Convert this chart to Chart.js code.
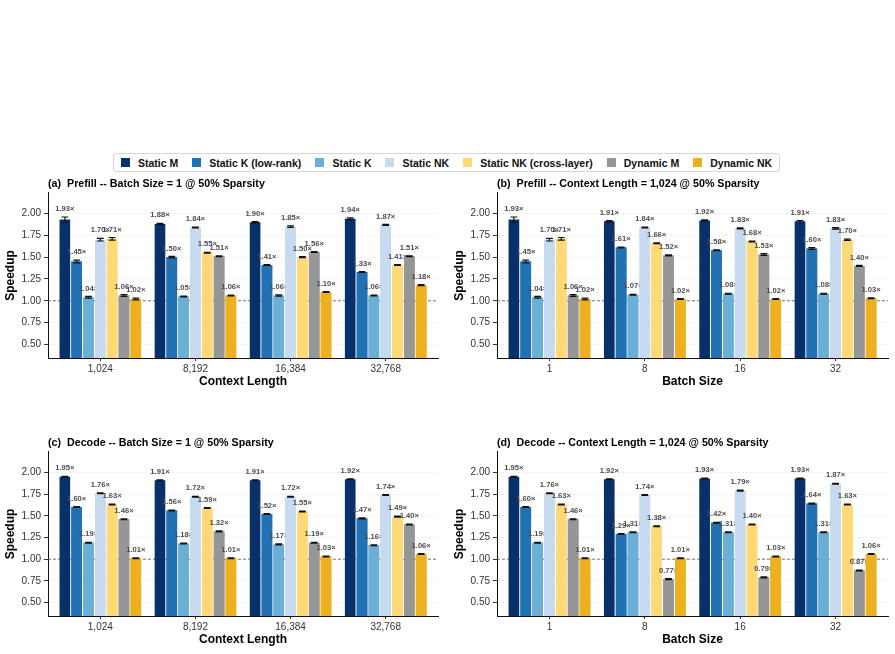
<!DOCTYPE html>
<html>
<head>
<meta charset="utf-8">
<script src="https://cdn.jsdelivr.net/npm/chart.js@4.4.1/dist/chart.umd.min.js"></script>
<style>
  body { margin: 0; width: 895px; height: 654px; background: #fff; position: relative; overflow: hidden;
         font-family: "Liberation Sans", Arial, sans-serif; }
  canvas { position: absolute; }
  #legend { position: absolute; left: 113px; top: 153px; width: 667px; height: 19px; box-sizing: border-box;
            border: 1px solid #d6d6d6; border-radius: 3px; display: flex; align-items: center; justify-content: center;
            font-size: 10.5px; font-weight: bold; color: #111; }
  .item { display: flex; align-items: center; margin: 0 7px; white-space: pre; }
  .sw { width: 9px; height: 9px; margin-right: 8px; }
</style>
</head>
<body>
<div id="legend"></div>
<canvas id="chartA" width="445" height="220" style="left:0;top:172px"></canvas>
<canvas id="chartB" width="450" height="220" style="left:445px;top:172px"></canvas>
<canvas id="chartC" width="445" height="219" style="left:0;top:431px"></canvas>
<canvas id="chartD" width="450" height="219" style="left:445px;top:431px"></canvas>
<script>
const FONT = '"Liberation Sans", Arial, sans-serif';

const seriesNames = ['Static M', 'Static K (low-rank)', 'Static K', 'Static NK',
                     'Static NK (cross-layer)', 'Dynamic M', 'Dynamic NK'];
const seriesColors = ['#08306b', '#2171b5', '#6baed6', '#c6dbef', '#fed976', '#969696', '#edb120'];

const contextLabels = ['1,024', '8,192', '16,384', '32,768'];
const batchLabels = ['1', '8', '16', '32'];
const yTicks = [0.5, 0.75, 1.0, 1.25, 1.5, 1.75, 2.0];
const yMin = 0.345, yMax = 2.235;

// rows = series (same order as seriesNames), cols = groups
const prefillCtxVals = [
  [1.93, 1.88, 1.90, 1.94],
  [1.45, 1.50, 1.41, 1.33],
  [1.04, 1.05, 1.06, 1.06],
  [1.70, 1.84, 1.85, 1.87],
  [1.71, 1.55, 1.50, 1.41],
  [1.06, 1.51, 1.56, 1.51],
  [1.02, 1.06, 1.10, 1.18]
];
const prefillCtxErr = [
  [0.030, 0.008, 0.008, 0.010],
  [0.015, 0.008, 0.005, 0.005],
  [0.010, 0.005, 0.008, 0.005],
  [0.015, 0.005, 0.010, 0.005],
  [0.015, 0.005, 0.005, 0.005],
  [0.010, 0.005, 0.005, 0.005],
  [0.010, 0.005, 0.005, 0.005]
];

const prefillBatchVals = [
  [1.93, 1.91, 1.92, 1.91],
  [1.45, 1.61, 1.58, 1.60],
  [1.04, 1.07, 1.08, 1.08],
  [1.70, 1.84, 1.83, 1.83],
  [1.71, 1.66, 1.68, 1.70],
  [1.06, 1.52, 1.53, 1.40],
  [1.02, 1.02, 1.02, 1.03]
];
const prefillBatchErr = [
  [0.030, 0.008, 0.008, 0.010],
  [0.015, 0.005, 0.005, 0.010],
  [0.010, 0.005, 0.005, 0.005],
  [0.015, 0.005, 0.005, 0.008],
  [0.015, 0.005, 0.005, 0.008],
  [0.010, 0.005, 0.010, 0.005],
  [0.010, 0.005, 0.005, 0.005]
];

const decodeCtxVals = [
  [1.95, 1.91, 1.91, 1.92],
  [1.60, 1.56, 1.52, 1.47],
  [1.19, 1.18, 1.17, 1.16],
  [1.76, 1.72, 1.72, 1.74],
  [1.63, 1.59, 1.55, 1.49],
  [1.46, 1.32, 1.19, 1.40],
  [1.01, 1.01, 1.03, 1.06]
];
const decodeBatchVals = [
  [1.95, 1.92, 1.93, 1.93],
  [1.60, 1.29, 1.42, 1.64],
  [1.19, 1.31, 1.31, 1.31],
  [1.76, 1.74, 1.79, 1.87],
  [1.63, 1.38, 1.40, 1.63],
  [1.46, 0.77, 0.79, 0.87],
  [1.01, 1.01, 1.03, 1.06]
];
const decodeErr = [
  [0.005, 0.005, 0.005, 0.005],
  [0.005, 0.005, 0.005, 0.005],
  [0.005, 0.005, 0.005, 0.005],
  [0.005, 0.005, 0.005, 0.005],
  [0.005, 0.005, 0.005, 0.005],
  [0.005, 0.005, 0.005, 0.005],
  [0.005, 0.005, 0.005, 0.005]
];

// legend (shared by all four panels)
const legendEl = document.getElementById('legend');
seriesNames.forEach((name, i) => {
  const it = document.createElement('div');
  it.className = 'item';
  it.innerHTML = `<span class="sw" style="background:${seriesColors[i]}"></span><span>${name}</span>`;
  legendEl.appendChild(it);
});

// dashed 1.0 line under the bars; then each series in turn gets bars, error bars and labels,
// so a label can be hidden by the bars of the series that come after it (as in the original)
const barExtras = {
  id: 'barExtras',
  beforeDatasetsDraw(chart) {
    const { ctx, chartArea: a, scales: { y } } = chart;
    const y1 = y.getPixelForValue(1);
    ctx.save();
    ctx.strokeStyle = '#555';
    ctx.lineWidth = 0.8;
    ctx.setLineDash([3, 2]);
    ctx.beginPath();
    ctx.moveTo(a.left, y1);
    ctx.lineTo(a.right, y1);
    ctx.stroke();
    ctx.restore();
  },
  afterDatasetsDraw(chart) {
    const { ctx, chartArea: a, scales: { y } } = chart;
    chart.data.datasets.forEach((ds, i) => {
      const bars = chart.getDatasetMeta(i).data;
      if (i > 0) {
        ctx.save();
        ctx.beginPath();
        ctx.rect(a.left, a.top, a.right - a.left, a.bottom - a.top);
        ctx.clip();
        bars.forEach(bar => bar.draw(ctx));
        ctx.restore();
      }
      ctx.save();
      ctx.strokeStyle = '#111';
      ctx.lineWidth = 1.2;
      bars.forEach((bar, j) => {
        const hi = y.getPixelForValue(ds.data[j] + ds.errors[j]);
        const lo = y.getPixelForValue(ds.data[j] - ds.errors[j]);
        const hw = bar.width * 0.32;
        ctx.beginPath();
        ctx.moveTo(bar.x, hi); ctx.lineTo(bar.x, lo);
        ctx.moveTo(bar.x - hw, hi); ctx.lineTo(bar.x + hw, hi);
        ctx.moveTo(bar.x - hw, lo); ctx.lineTo(bar.x + hw, lo);
        ctx.stroke();
      });
      ctx.font = 'bold 7.6px ' + FONT;
      ctx.fillStyle = '#4d4d4d';
      ctx.textAlign = 'center';
      ctx.textBaseline = 'middle';
      bars.forEach((bar, j) => {
        const top = y.getPixelForValue(ds.data[j] + ds.errors[j]);
        ctx.fillText(ds.data[j].toFixed(2) + '×', bar.x, top - 8);
      });
      ctx.restore();
    });
  }
};

function makePanel(id, title, labels, xTitle, vals, errs, padLeft) {
  const xExpand = 0.55;
  new Chart(document.getElementById(id), {
    type: 'bar',
    data: {
      labels: labels,
      datasets: seriesNames.map((name, i) => ({
        label: name,
        data: vals[i],
        errors: errs[i],
        backgroundColor: seriesColors[i],
        borderWidth: 0,
        barPercentage: 0.9,
        categoryPercentage: 0.87
      }))
    },
    options: {
      responsive: false,
      animation: false,
      events: [],
      layout: { padding: { left: padLeft, right: 7, top: 4, bottom: 2 } },
      plugins: {
        legend: { display: false },
        tooltip: { enabled: false },
        title: {
          display: true, text: title, align: 'start', fullSize: false, color: '#000',
          font: { family: FONT, size: 10.7, weight: 'bold', lineHeight: 1.12 },
          padding: { top: 2, bottom: 3 }
        }
      },
      scales: {
        x: {
          type: 'category',
          offset: true,
          grid: { display: true, drawOnChartArea: false, drawTicks: true, offset: false,
                  tickLength: 3, tickColor: '#333', tickWidth: 1 },
          border: { display: true, color: '#111', width: 1 },
          ticks: { color: '#333', font: { family: FONT, size: 10 }, padding: 2, maxRotation: 0 },
          title: { display: true, text: xTitle, color: '#000',
                   font: { family: FONT, size: 12, weight: 'bold', lineHeight: 1.2 },
                   padding: { top: 0, bottom: 1 } },
          afterBuildTicks(s) {
            s._startValue = -xExpand;
            s._valueRange = labels.length - 1 + 2 * xExpand;
          },
          afterFit(s) { s.height = 32; }
        },
        y: {
          min: yMin, max: yMax,
          grid: { color: '#e4e4e4', lineWidth: 0.7, drawTicks: true, tickLength: 4,
                  tickColor: '#333', tickWidth: 1 },
          border: { display: true, color: '#111', width: 1, dash: [2, 2] },
          ticks: { color: '#333', font: { family: FONT, size: 10 }, padding: 3,
                   callback: v => Number(v).toFixed(2) },
          title: { display: true, text: 'Speedup', color: '#000',
                   font: { family: FONT, size: 12, weight: 'bold', lineHeight: 1.2 },
                   padding: { top: 1, bottom: 0 } },
          afterBuildTicks(s) { s.ticks = yTicks.map(v => ({ value: v })); },
          afterFit(s) { s.width = 46; }
        }
      }
    },
    plugins: [barExtras]
  });
}

makePanel('chartA', '(a)  Prefill -- Batch Size = 1 @ 50% Sparsity', contextLabels, 'Context Length',
          prefillCtxVals, prefillCtxErr, 2);
makePanel('chartB', '(b)  Prefill -- Context Length = 1,024 @ 50% Sparsity', batchLabels, 'Batch Size',
          prefillBatchVals, prefillBatchErr, 6);
makePanel('chartC', '(c)  Decode -- Batch Size = 1 @ 50% Sparsity', contextLabels, 'Context Length',
          decodeCtxVals, decodeErr, 2);
makePanel('chartD', '(d)  Decode -- Context Length = 1,024 @ 50% Sparsity', batchLabels, 'Batch Size',
          decodeBatchVals, decodeErr, 6);
</script>
</body>
</html>
